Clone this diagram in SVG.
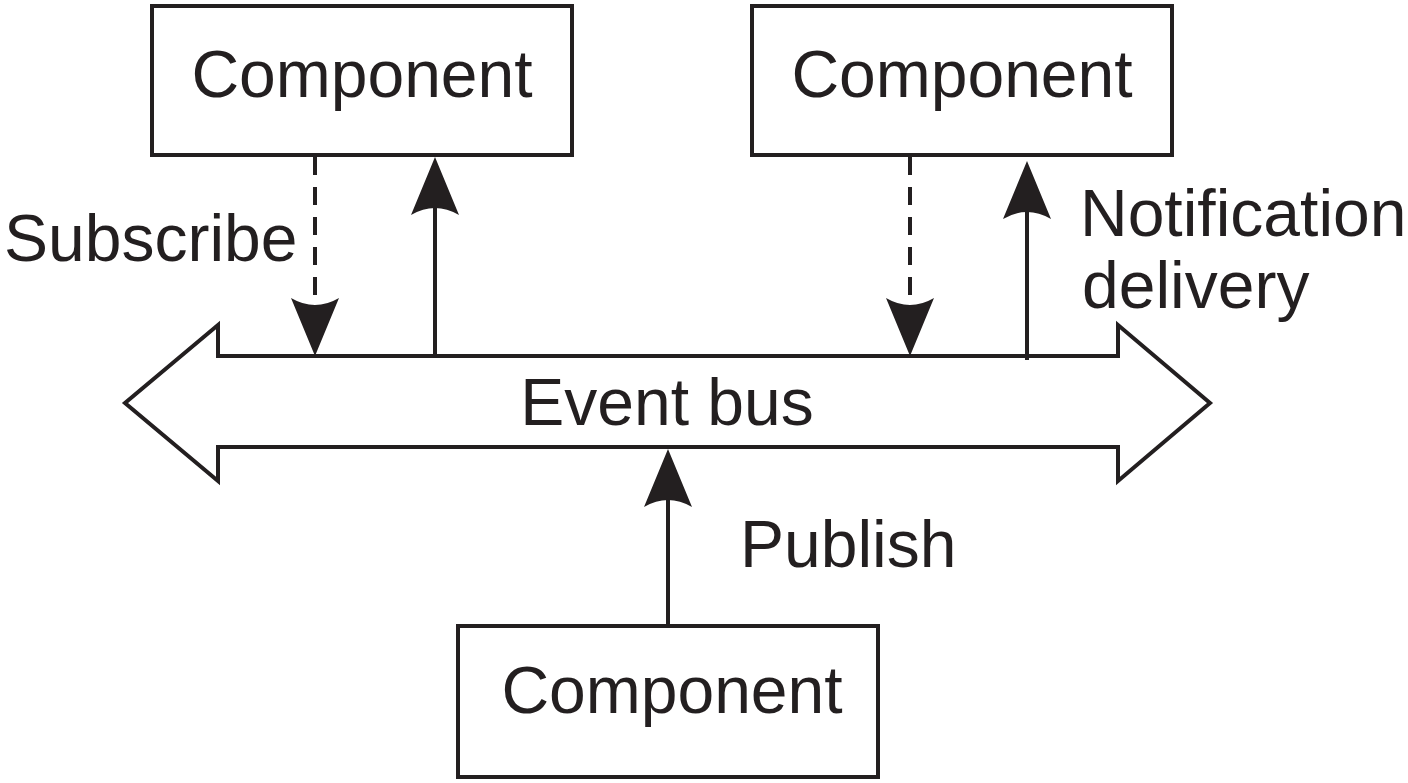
<svg xmlns="http://www.w3.org/2000/svg" width="1408" height="783" viewBox="0 0 1408 783">
<style>
  .box{fill:#fff;stroke:#231f20;stroke-width:4}
  .lbl{font-family:"Liberation Sans",Arial,sans-serif;font-size:66px;fill:#231f20}
  .ln{stroke:#231f20;stroke-width:4;fill:none}
  .dash{stroke-dasharray:18 12}
</style>
<defs>
  <marker id="ah" markerUnits="userSpaceOnUse" viewBox="0 0 60 50" refX="14" refY="25" markerWidth="60" markerHeight="50" orient="auto">
    <path d="M58,25 L0,1 Q14,25 0,49 Z" fill="#231f20"/>
  </marker>
</defs>
<rect width="1408" height="783" fill="#fff"/>
<g id="bus">
  <polygon points="218,356 1118,356 1118,325 1210,403 1118,481 1118,447 218,447 218,481 125,403 218,325" fill="#fff" stroke="#231f20" stroke-width="4"/>
  <text class="lbl" x="667" y="425" text-anchor="middle">Event bus</text>
</g>
<g id="comp1">
  <rect class="box" x="152" y="6" width="420" height="149"/>
  <text class="lbl" x="362" y="97" text-anchor="middle">Component</text>
</g>
<g id="comp2">
  <rect class="box" x="752" y="6" width="420" height="149"/>
  <text class="lbl" x="962" y="97" text-anchor="middle">Component</text>
</g>
<g id="comp3">
  <rect class="box" x="458" y="626" width="420" height="151"/>
  <text class="lbl" x="672" y="713" text-anchor="middle">Component</text>
</g>
<g id="connectors">
  <line class="ln dash" x1="315" y1="157" x2="315" y2="312" marker-end="url(#ah)"/>
  <line class="ln" x1="435" y1="356" x2="435" y2="201" marker-end="url(#ah)"/>
  <line class="ln dash" x1="910" y1="157" x2="910" y2="312" marker-end="url(#ah)"/>
  <line class="ln" x1="1027" y1="360" x2="1027" y2="205" marker-end="url(#ah)"/>
  <line class="ln" x1="668" y1="624" x2="668" y2="493" marker-end="url(#ah)"/>
</g>
<g id="labels">
  <text class="lbl" x="4" y="261">Subscribe</text>
  <text class="lbl" x="1080" y="236">Notification</text>
  <text class="lbl" x="1082" y="308">delivery</text>
  <text class="lbl" x="740" y="567">Publish</text>
</g>
</svg>
